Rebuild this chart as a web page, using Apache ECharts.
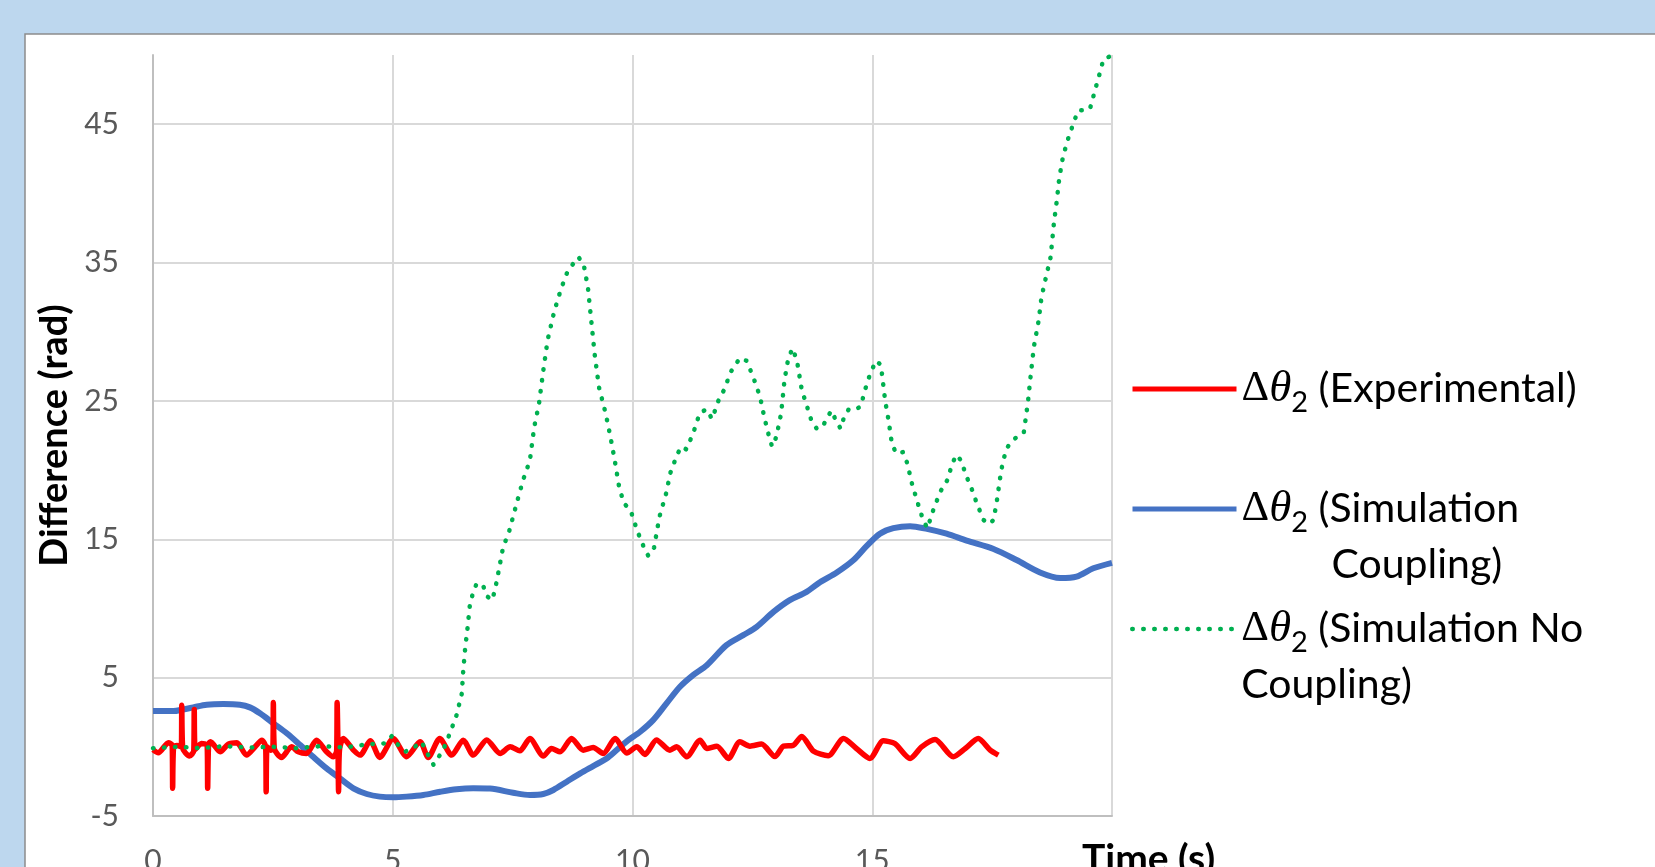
<!DOCTYPE html>
<html>
<head>
<meta charset="utf-8">
<title>Difference vs time</title>
<script src="https://cdn.jsdelivr.net/npm/echarts/dist/echarts.min.js"></script>
<style>
html,body{margin:0;padding:0;background:#BDD7EE;}
#main{width:1655px;height:867px;}
</style>
</head>
<body>
<div id="main"></div>
<script>
// series names (legend)
var nameExp = 'Δθ2 (Experimental)';
var nameCoup = 'Δθ2 (Simulation Coupling)';
var nameNoCoup = 'Δθ2 (Simulation No Coupling)';

// experimental
var expTime = [0, 0.11, 0.32, 0.40, 0.41, 0.43, 0.50, 0.59, 0.60, 0.62, 0.76, 0.85, 0.86, 0.88, 1.01, 1.13, 1.14, 1.16, 1.20, 1.40,
  1.57, 1.75, 1.95, 2.13, 2.27, 2.35, 2.36, 2.38, 2.45, 2.50, 2.51, 2.53, 2.68, 2.89, 3.03, 3.20, 3.41, 3.62, 3.76, 3.83,
  3.84, 3.86, 3.87, 3.89, 3.97, 4.18, 4.32, 4.53, 4.73, 5.01, 5.29, 5.57, 5.74, 5.98, 6.23, 6.47, 6.68, 6.96, 7.24, 7.45,
  7.65, 7.86, 8.14, 8.31, 8.49, 8.73, 8.97, 9.18, 9.39, 9.64, 9.88, 10.09, 10.26, 10.50, 10.78, 10.92, 11.13, 11.41, 11.55, 11.76,
  12.00, 12.24, 12.45, 12.69, 12.97, 13.15, 13.35, 13.53, 13.77, 14.08, 14.40, 14.67, 14.95, 15.23, 15.47, 15.79, 16.03, 16.31, 16.69, 16.94,
  17.21, 17.46, 17.63];
var expDiff = [-0.2, -0.43, 0.29, 0.1, -3.0, 0.0, 0.1, 0.0, 3.0, -0.1, -0.67, -0.3, 2.7, -0.2, 0.24, 0.1, -3.0, 0.2, 0.36, -0.36,
  0.19, 0.29, -0.6, 0.0, 0.48, 0.0, -3.25, 0.0, -0.24, -0.1, 3.2, -0.12, -0.77, 0.0, -0.36, -0.48, 0.48, -0.36, -0.72, -0.3,
  3.2, -0.5, -3.25, -0.2, 0.6, -0.24, -0.6, 0.44, -0.77, 0.6, -0.72, 0.36, -0.77, 0.6, -0.6, 0.48, -0.6, 0.5, -0.48, 0.0,
  -0.29, 0.6, -0.67, -0.12, -0.36, 0.6, -0.24, -0.05, -0.48, 0.6, -0.45, 0.0, -0.55, 0.5, -0.24, 0.0, -0.72, 0.48, -0.12, 0.05,
  -0.84, 0.36, 0.05, 0.2, -0.7, 0.05, 0.1, 0.75, -0.3, -0.65, 0.6, -0.12, -0.84, 0.43, 0.24, -0.84, 0.0, 0.53, -0.72, -0.12,
  0.6, -0.24, -0.6];

// simulation with coupling
var coupTime = [0, 0.42, 0.63, 0.84, 1.12, 1.47, 1.81, 2.02, 2.23, 2.51, 2.79, 3.07, 3.34, 3.62, 3.90, 4.18, 4.46, 4.73, 5.01, 5.29,
  5.64, 5.99, 6.33, 6.68, 7.03, 7.51, 7.86, 8.14, 8.35, 8.63, 8.91, 9.18, 9.46, 9.67, 9.88, 10.16, 10.43, 10.71, 10.99, 11.27,
  11.55, 11.96, 12.31, 12.59, 12.94, 13.28, 13.63, 13.91, 14.26, 14.61, 14.88, 15.16, 15.44, 15.79, 16.14, 16.55, 16.97, 17.53, 18.01, 18.50,
  18.92, 19.26, 19.61, 20.0];
var coupDiff = [2.58, 2.58, 2.7, 2.85, 3.04, 3.09, 3.04, 2.85, 2.42, 1.7, 0.98, 0.13, -0.72, -1.56, -2.28, -3.0, -3.41, -3.6, -3.65, -3.6,
  -3.48, -3.25, -3.07, -3.0, -3.02, -3.32, -3.48, -3.41, -3.12, -2.52, -1.92, -1.39, -0.84, -0.23, 0.4, 1.09, 1.93, 3.14, 4.34, 5.2,
  5.9, 7.35, 8.07, 8.67, 9.75, 10.6, 11.2, 11.9, 12.6, 13.5, 14.5, 15.4, 15.8, 15.95, 15.75, 15.4, 14.9, 14.3, 13.5, 12.6,
  12.2, 12.3, 12.9, 13.3];

// simulation without coupling
var noCoupTime = [0, 0.5, 1.0, 1.5, 2.0, 2.5, 3.0, 3.5, 4.0, 4.5, 4.84, 4.98, 5.08, 5.26, 5.46, 5.6, 5.74, 5.85, 6.05, 6.19,
  6.33, 6.44, 6.47, 6.51, 6.56, 6.61, 6.68, 6.75, 6.88, 6.96, 7.07, 7.13, 7.17, 7.3, 7.43, 7.6, 7.72, 7.86, 7.95, 8.05,
  8.14, 8.23, 8.37, 8.51, 8.65, 8.87, 8.98, 9.07, 9.14, 9.21, 9.30, 9.44, 9.54, 9.63, 9.72, 9.82, 9.96, 10.10, 10.24, 10.33,
  10.45, 10.56, 10.70, 10.79, 10.94, 11.03, 11.12, 11.26, 11.40, 11.54, 11.66, 11.79, 11.91, 12.05, 12.24, 12.38, 12.52, 12.66, 12.75, 12.85,
  12.91, 13.00, 13.10, 13.17, 13.25, 13.34, 13.43, 13.53, 13.64, 13.73, 13.84, 13.96, 14.06, 14.15, 14.24, 14.34, 14.41, 14.51, 14.66, 14.76,
  14.85, 14.96, 15.08, 15.18, 15.27, 15.34, 15.41, 15.50, 15.64, 15.73, 15.83, 15.95, 16.06, 16.15, 16.29, 16.43, 16.57, 16.67, 16.76, 16.85,
  16.97, 17.09, 17.18, 17.32, 17.44, 17.53, 17.60, 17.69, 17.79, 17.91, 18.02, 18.16, 18.25, 18.30, 18.37, 18.47, 18.53, 18.62, 18.72, 18.79,
  18.85, 18.90, 18.98, 19.09, 19.23, 19.30, 19.41, 19.54, 19.65, 19.77, 19.82, 19.96, 20.0];
var noCoupDiff = [-0.1, 0.0, -0.1, 0.05, -0.05, 0.0, -0.1, 0.05, -0.05, 0.2, 0.25, 0.78, 0.25, -0.35, 0.0, 0.37, -0.6, -1.3, -0.24, 0.96,
  2.28, 3.85, 5.5, 7.1, 8.6, 10.3, 11.2, 11.8, 11.7, 10.9, 10.6, 11.3, 12.0, 14.4, 15.6, 17.8, 19.3, 20.7, 23.1, 24.8,
  27.2, 29.4, 31.5, 33.1, 34.4, 35.4, 34.9, 33.2, 30.8, 28.4, 26.0, 24.1, 22.4, 20.7, 18.8, 17.6, 17.1, 15.6, 14.4, 13.8,
  14.4, 16.6, 18.3, 19.8, 21.2, 21.7, 21.5, 22.6, 24.1, 24.4, 23.7, 25.0, 25.8, 27.1, 28.1, 27.9, 26.7, 25.3, 23.8, 22.4,
  21.7, 22.4, 24.1, 26.5, 28.1, 28.8, 27.9, 25.8, 24.6, 23.6, 23.0, 23.1, 23.8, 24.3, 23.6, 23.0, 23.8, 24.4, 24.4, 24.6,
  25.8, 27.0, 27.9, 27.6, 25.0, 23.6, 21.9, 21.2, 21.3, 20.5, 19.0, 17.6, 16.4, 15.8, 17.3, 18.5, 19.3, 20.5, 21.1, 20.7,
  19.5, 18.5, 17.6, 16.4, 16.1, 16.4, 17.8, 20.0, 21.5, 22.1, 22.4, 22.7, 25.0, 26.7, 28.9, 30.8, 32.5, 33.9, 35.4, 37.9,
  39.5, 41.1, 42.7, 44.0, 45.4, 46.0, 46.0, 46.1, 47.5, 49.0, 49.7, 49.9, 49.4];

function pairs(xs, ys) {
    return xs.map(function (x, i) { return [x, ys[i]]; });
}

// legend text: Δθ₂ with math italic theta
function legendText(name) {
    var head = '{d|Δ}{t|θ}{s|2}';
    if (name === nameExp) return head + '{n| (Experimental)}';
    if (name === nameCoup) return '\n' + head + '{n| (Simulation}\n{c|Coupling)}';
    return '\n' + head + '{n| (Simulation No}\n{n|Coupling)}';
}

var legendRich = {
    d: {fontFamily: 'Liberation Serif', fontSize: 43, lineHeight: 56, color: '#000'},
    t: {fontFamily: 'Liberation Serif', fontStyle: 'italic', fontSize: 45, lineHeight: 56, color: '#000'},
    s: {fontFamily: 'Lato', fontSize: 29, lineHeight: 26, verticalAlign: 'bottom', color: '#000'},
    n: {fontFamily: 'Lato', fontSize: 41, lineHeight: 56, color: '#000'},
    c: {fontFamily: 'Lato', fontSize: 41, lineHeight: 56, color: '#000', padding: [0, 0, 0, 90]}
};

function makeLegend(name, top, lineStyle) {
    return {
        data: [name],
        left: 1130,
        top: top,
        padding: 0,
        itemWidth: 104,
        itemHeight: 14,
        selectedMode: false,
        formatter: legendText,
        itemStyle: {opacity: 0, borderWidth: 0},
        lineStyle: lineStyle,
        textStyle: {fontFamily: 'Lato', fontSize: 41, lineHeight: 56, color: '#000', rich: legendRich}
    };
}

var labelStyle = {fontFamily: 'Lato', fontSize: 30, color: '#595959'};

var myChart = echarts.init(document.getElementById('main'));
var option = {
    backgroundColor: '#BDD7EE',
    animation: false,
    graphic: [{
        type: 'rect',
        z: -10,
        shape: {x: 25, y: 34, width: 1700, height: 900},
        style: {fill: '#fff', stroke: '#8c8c8c', lineWidth: 1.5}
    }],
    grid: {left: 153, right: 543, top: 55, bottom: 51, containLabel: false, outerBoundsMode: 'none'},
    legend: [
        makeLegend(nameExp, 361, {width: 5, color: '#FF0000'}),
        makeLegend(nameCoup, 425, {width: 5, color: '#4472C4'}),
        makeLegend(nameNoCoup, 545, {width: 4.5, color: '#00B050', type: [0.5, 10.5], cap: 'round'})
    ],
    xAxis: {
        type: 'value',
        min: 0,
        max: 20,
        interval: 5,
        name: 'Time (s)',
        nameLocation: 'end',
        nameGap: -30,
        nameTextStyle: {fontFamily: 'Lato', fontWeight: 'bold', fontSize: 39, color: '#000',
            align: 'left', verticalAlign: 'top', padding: [24, 0, 0, 0]},
        axisLine: {onZero: false, lineStyle: {color: '#BFBFBF', width: 2}},
        axisTick: {show: false},
        axisLabel: Object.assign({margin: 30, showMaxLabel: false}, labelStyle),
        splitLine: {show: true, lineStyle: {color: '#D9D9D9', width: 2}}
    },
    yAxis: {
        type: 'value',
        min: -5,
        max: 50,
        interval: 10,
        name: 'Difference (rad)',
        nameLocation: 'middle',
        nameGap: 78,
        nameTextStyle: {fontFamily: 'Lato', fontWeight: 'bold', fontSize: 38, color: '#000'},
        axisLine: {show: true, onZero: false, lineStyle: {color: '#BFBFBF', width: 2}},
        axisTick: {show: false},
        axisLabel: Object.assign({margin: 34, showMaxLabel: false}, labelStyle),
        splitLine: {show: true, showMaxLine: false, lineStyle: {color: '#D9D9D9', width: 2}}
    },
    series: [{
        name: nameExp,
        type: 'line',
        symbol: 'none',
        smooth: 0.25,
        z: 3,
        data: pairs(expTime, expDiff),
        itemStyle: {color: '#FF0000'},
        lineStyle: {color: '#FF0000', width: 5.5, join: 'round'}
    }, {
        name: nameCoup,
        type: 'line',
        symbol: 'none',
        smooth: 0.3,
        z: 2,
        data: pairs(coupTime, coupDiff),
        itemStyle: {color: '#4472C4'},
        lineStyle: {color: '#4472C4', width: 6, join: 'round'}
    }, {
        name: nameNoCoup,
        type: 'line',
        symbol: 'none',
        z: 4,
        data: pairs(noCoupTime, noCoupDiff),
        itemStyle: {color: '#00B050'},
        lineStyle: {color: '#00B050', width: 4.5, type: [0.5, 10.5], cap: 'round', join: 'round'}
    }]
};
myChart.setOption(option);
</script>
</body>
</html>
